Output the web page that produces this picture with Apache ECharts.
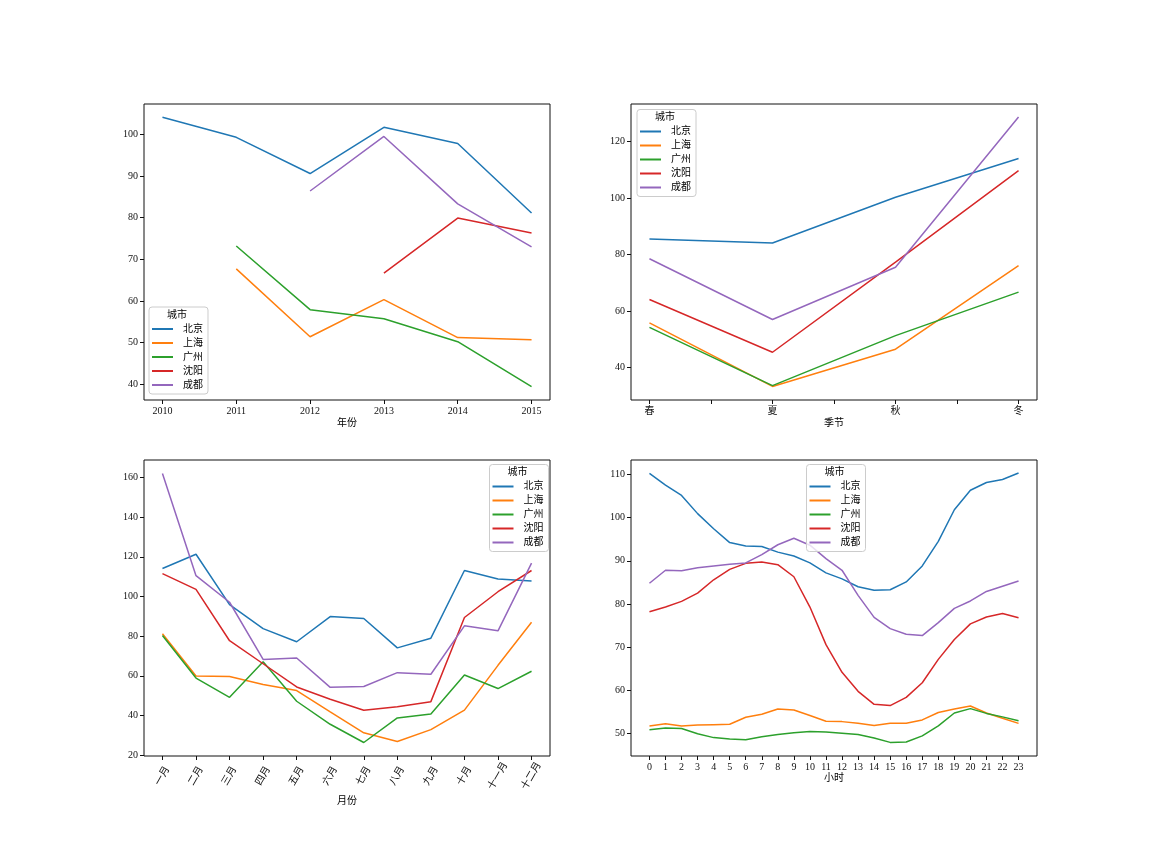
<!DOCTYPE html>
<html>
<head>
<meta charset="utf-8">
<script src="https://cdn.jsdelivr.net/npm/echarts@6/dist/echarts.min.js"></script>
<style>html,body{margin:0;padding:0;background:#fff}#c{width:1152px;height:864px}</style>
</head>
<body>
<div id="c"></div>
<script>
const cities = ['北京', '上海', '广州', '沈阳', '成都'];
const colors = ['#1f77b4', '#ff7f0e', '#2ca02c', '#d62728', '#9467bd'];

// Panel 1: by year
const years = [2010, 2011, 2012, 2013, 2014, 2015];
const yearBeijing = [104.1, 99.3, 90.6, 101.7, 97.8, 81.1];
const yearShanghai = [null, 67.7, 51.4, 60.3, 51.2, 50.7];
const yearGuangzhou = [null, 73.2, 57.9, 55.7, 50.2, 39.4];
const yearShenyang = [null, null, null, 66.7, 79.9, 76.3];
const yearChengdu = [null, null, 86.4, 99.5, 83.3, 73.0];

// Panel 2: by season
const seasons = ['春', '夏', '秋', '冬'];
const seasonBeijing = [85.5, 84.1, 100.3, 114.0];
const seasonShanghai = [55.8, 33.3, 46.5, 76.1];
const seasonGuangzhou = [54.2, 33.6, 51.3, 66.7];
const seasonShenyang = [64.1, 45.4, 77.3, 109.7];
const seasonChengdu = [78.5, 57.0, 75.5, 128.7];

// Panel 3: by month
const months = ['一月', '二月', '三月', '四月', '五月', '六月', '七月', '八月', '九月', '十月', '十一月', '十二月'];
const monthBeijing = [114.1, 121.3, 95.9, 83.8, 77.2, 89.9, 88.9, 74.1, 79.0, 113.1, 108.8, 107.8];
const monthShanghai = [81.2, 59.9, 59.7, 55.6, 52.6, 41.8, 31.3, 26.9, 32.9, 42.7, 65.3, 87.0];
const monthGuangzhou = [80.3, 58.9, 49.2, 67.1, 47.2, 35.6, 26.4, 38.8, 40.8, 60.4, 53.6, 62.3];
const monthShenyang = [111.5, 103.6, 77.7, 66.1, 54.4, 48.2, 42.7, 44.4, 47.0, 89.4, 102.4, 113.1];
const monthChengdu = [162.0, 110.5, 97.1, 68.3, 69.0, 54.2, 54.6, 61.6, 60.8, 85.2, 82.7, 116.8];

// Panel 4: by hour
const hours = [0, 1, 2, 3, 4, 5, 6, 7, 8, 9, 10, 11, 12, 13, 14, 15, 16, 17, 18, 19, 20, 21, 22, 23];
const hourBeijing = [110.2, 107.5, 105.1, 100.9, 97.4, 94.2, 93.4, 93.3, 92.0, 91.1, 89.5, 87.2, 85.8, 84.0, 83.2, 83.3, 85.1, 88.8, 94.5, 101.8, 106.3, 108.1, 108.8, 110.3];
const hourShanghai = [51.8, 52.3, 51.8, 52.0, 52.1, 52.2, 53.8, 54.5, 55.7, 55.5, 54.2, 52.9, 52.8, 52.4, 51.9, 52.4, 52.4, 53.2, 54.9, 55.7, 56.4, 54.8, 53.6, 52.4];
const hourGuangzhou = [50.9, 51.3, 51.2, 50.0, 49.1, 48.8, 48.6, 49.3, 49.8, 50.2, 50.5, 50.4, 50.1, 49.8, 49.0, 48.0, 48.1, 49.5, 51.8, 54.8, 55.8, 54.7, 53.9, 53.0];
const hourShenyang = [78.2, 79.3, 80.6, 82.5, 85.6, 88.0, 89.4, 89.7, 89.1, 86.3, 79.3, 70.6, 64.2, 59.8, 56.8, 56.5, 58.4, 61.8, 67.2, 71.8, 75.4, 77.0, 77.8, 76.8];
const hourChengdu = [84.8, 87.8, 87.7, 88.4, 88.8, 89.2, 89.5, 91.4, 93.7, 95.2, 93.6, 90.5, 87.8, 82.0, 76.9, 74.3, 73.0, 72.7, 75.7, 79.0, 80.7, 82.9, 84.1, 85.3];

const FONT = '"Liberation Serif", "Noto Sans CJK SC", serif';
const panels = [
  {x: years, vals: [yearBeijing, yearShanghai, yearGuangzhou, yearShenyang, yearChengdu]},
  {x: seasons.map((s, i) => i), vals: [seasonBeijing, seasonShanghai, seasonGuangzhou, seasonShenyang, seasonChengdu]},
  {x: months.map((m, i) => i), vals: [monthBeijing, monthShanghai, monthGuangzhou, monthShenyang, monthChengdu]},
  {x: hours, vals: [hourBeijing, hourShanghai, hourGuangzhou, hourShenyang, hourChengdu]}
];

const grids = [
  {left: 144, top: 104, width: 406, height: 296},
  {left: 631, top: 104, width: 406, height: 296},
  {left: 144, top: 460, width: 406, height: 296},
  {left: 631, top: 460, width: 406, height: 296}
].map(g => Object.assign(g, {show: true, borderColor: '#111', borderWidth: 1, containLabel: false}));

const range = (a, b, s) => { const r = []; for (let v = a; v <= b + 1e-9; v += s) r.push(Math.round(v * 100) / 100); return r; };

function xAxisBase(i, min, max, ticks, labels, fmt, name, nameGap, extraLabel) {
  return {
    type: 'value', gridIndex: i, min: min, max: max,
    name: name, nameLocation: 'middle', nameGap: nameGap,
    nameTextStyle: {fontFamily: FONT, fontSize: 10, color: '#000'},
    axisLine: {show: false, onZero: false},
    axisTick: {show: true, customValues: ticks, length: 4, lineStyle: {color: '#111'}},
    axisLabel: Object.assign({show: true, customValues: labels, formatter: fmt, fontFamily: FONT, fontSize: 10, color: '#111', margin: 6}, extraLabel || {}),
    splitLine: {show: false}
  };
}
function yAxisBase(i, min, max, ticks) {
  return {
    type: 'value', gridIndex: i, min: min, max: max,
    axisLine: {show: false, onZero: false},
    axisTick: {show: true, customValues: ticks, length: 4, lineStyle: {color: '#111'}},
    axisLabel: {show: true, customValues: ticks, formatter: v => String(v), fontFamily: FONT, fontSize: 10, color: '#111', margin: 6},
    splitLine: {show: false}
  };
}

const xAxes = [
  xAxisBase(0, 2009.75, 2015.25, years, years, v => String(v), '年份', 18),
  xAxisBase(1, -0.15, 3.15, range(0, 3, 0.5), [0, 1, 2, 3], v => seasons[Math.round(v)], '季节', 18),
  xAxisBase(2, -0.55, 11.55, range(0, 11, 1), range(0, 11, 1), v => months[Math.round(v)], '月份', 40,
    {rotate: 60, align: 'center', verticalAlign: 'middle', margin: 20}),
  xAxisBase(3, -1.15, 24.15, hours, hours, v => String(v), '小时', 17)
];
const yAxes = [
  yAxisBase(0, 36.2, 107.3, range(40, 100, 10)),
  yAxisBase(1, 28.5, 133.3, range(40, 120, 20)),
  yAxisBase(2, 19.6, 168.8, range(20, 160, 20)),
  yAxisBase(3, 44.85, 113.3, range(50, 110, 10))
];

const series = [];
panels.forEach((p, pi) => {
  p.vals.forEach((vals, ci) => {
    series.push({
      type: 'line', name: cities[ci], xAxisIndex: pi, yAxisIndex: pi,
      data: p.x.map((xv, k) => [xv, vals[k] === null ? '-' : vals[k]]),
      symbol: 'none', showSymbol: false, connectNulls: false,
      lineStyle: {color: colors[ci], width: 1.5},
      itemStyle: {color: colors[ci]},
      emphasis: {disabled: true}, animation: false
    });
  });
});

const legendPos = [[149, 307], [637, 109.5], [489.5, 464.5], [806.5, 464.5]];
const legends = legendPos.map(pos => ({
  left: pos[0], top: pos[1], orient: 'vertical', data: cities,
  icon: 'rect', itemWidth: 21, itemHeight: 2, itemGap: 2,
  padding: [16, 5, 3, 3],
  backgroundColor: 'rgba(255,255,255,0.8)', borderColor: '#cccccc', borderWidth: 1, borderRadius: 3,
  textStyle: {fontFamily: FONT, fontSize: 10, color: '#000', lineHeight: 12, padding: [0, 0, 0, 5]},
  selectedMode: false
}));

const graphics = legendPos.map(pos => ({
  type: 'text', x: pos[0] + 28, y: pos[1] + 3, z: 100,
  style: {text: '城市', font: '10px ' + FONT, fill: '#000', textAlign: 'center'}
}));

const chart = echarts.init(document.getElementById('c'), null, {renderer: 'canvas'});
chart.setOption({
  backgroundColor: '#fff',
  animation: false,
  grid: grids,
  xAxis: xAxes,
  yAxis: yAxes,
  legend: legends,
  series: series,
  graphic: graphics
});
</script>
</body>
</html>
